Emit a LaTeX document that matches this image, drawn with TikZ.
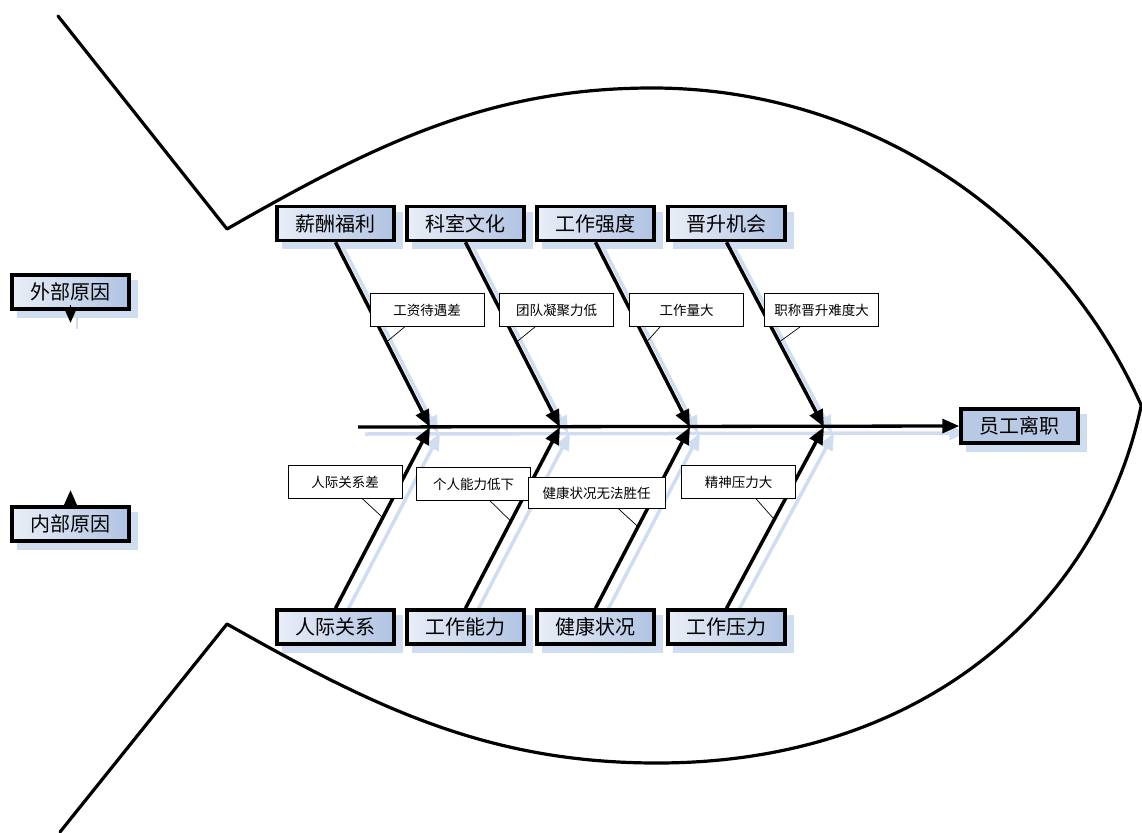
\documentclass[tikz,border=0pt]{standalone}
\usepackage{fontspec}
\newfontfamily\cjk{Noto Sans CJK SC}
\usetikzlibrary{arrows.meta,calc,backgrounds}
\definecolor{boxL}{RGB}{233,238,247}
\definecolor{boxR}{RGB}{176,195,227}
\definecolor{effC}{RGB}{184,201,230}
\definecolor{shadowC}{RGB}{208,220,240}
\begin{document}
\begin{tikzpicture}[x=1pt,y=-1pt,
 catbox/.style={draw=black,line width=3.5pt,minimum width=117pt,minimum height=34pt,inner sep=0pt,left color=boxL,right color=boxR,font=\cjk\fontsize{20}{20}\selectfont},
 effbox/.style={draw=black,line width=3.5pt,minimum width=117pt,minimum height=34pt,inner sep=0pt,fill=effC,font=\cjk\fontsize{20}{20}\selectfont},
 labbox/.style={draw=black,line width=0.8pt,fill=white,minimum width=114pt,minimum height=33pt,inner sep=0pt,font=\cjk\fontsize{13.5}{13.5}\selectfont},
 bone/.style={line width=3.5pt,-{Triangle[length=17pt,width=14pt]}},
 shadowline/.style={draw=shadowC,line width=3.5pt,-{Triangle[length=17pt,width=14pt]}},
 callout/.style={line width=0.7pt},
 fishline/.style={line width=3.2pt,line join=round,line cap=round},
 smallarrow/.style={line width=1pt,-{Triangle[length=15pt,width=13pt]}},
]
\useasboundingbox (0,0) rectangle (1142,832);

% fish outline
\draw[fishline] (58,16) -- (227,229)
  .. controls (377,143) and (490,88) .. (652.5,88)
  arc[start angle=-90,end angle=-24,radius=535]
  .. controls (1100,600) and (930,763) .. (657,763)
  .. controls (490,763) and (377,709) .. (227,624) -- (60,832);

% category boxes
\node[catbox] (xc) at (335.5,223.5) {薪酬福利};
\node[catbox] (ks) at (465.5,223.5) {科室文化};
\node[catbox] (qd) at (595.5,223.5) {工作强度};
\node[catbox] (js) at (726.5,223.5) {晋升机会};
\node[catbox] (rj) at (335.5,627) {人际关系};
\node[catbox] (nl) at (465.5,627) {工作能力};
\node[catbox] (jk) at (595.5,627) {健康状况};
\node[catbox] (yl) at (726.5,627) {工作压力};
\node[effbox] (eff) at (1019.5,426) {员工离职};
\node[catbox] (ext) at (70.5,292) {外部原因};
\node[catbox] (int) at (70.5,524) {内部原因};

% spine
\coordinate (sp) at (358,427);
\coordinate (j1) at (430,427);
\coordinate (j2) at (560,427);
\coordinate (j3) at (690,427);
\coordinate (j4) at (824,427);
\draw[line width=3.3pt,-{Triangle[length=17pt,width=14pt]}] (sp) -- (eff.west);

% bones
\draw[bone] (xc.south) -- (j1);
\draw[bone] (ks.south) -- (j2);
\draw[bone] (qd.south) -- (j3);
\draw[bone] (js.south) -- (j4);
\draw[bone] (rj.north) -- (j1);
\draw[bone] (nl.north) -- (j2);
\draw[bone] (jk.north) -- (j3);
\draw[bone] (yl.north) -- (j4);

% small arrows at left boxes
\coordinate (es) at ($(ext.south)+(0,-6)$);
\coordinate (ea) at ($(ext.south)+(0,12)$);
\coordinate (is) at ($(int.north)+(0,3)$);
\coordinate (ia) at ($(int.north)+(0,-15)$);
\draw[smallarrow] (es) -- (ea);
\draw[smallarrow] (is) -- (ia);

% labels
\node[labbox] (l1) at (427,310) {工资待遇差};
\node[labbox] (l2) at (556.5,310) {团队凝聚力低};
\node[labbox] (l3) at (686.5,310) {工作量大};
\node[labbox] (l4) at (821.5,310) {职称晋升难度大};
\node[labbox] (l5) at (345,482) {人际关系差};
\node[labbox] (l6) at (473.5,484) {个人能力低下};
\node[labbox,minimum width=137pt,minimum height=31pt] (l7) at (596.5,493) {健康状况无法胜任};
\node[labbox] (l8) at (738.5,482) {精神压力大};

% callout points on bones
\coordinate (k1) at ($(xc.south)!0.54!(j1)$);
\coordinate (k2) at ($(ks.south)!0.54!(j2)$);
\coordinate (k3) at ($(qd.south)!0.54!(j3)$);
\coordinate (k4) at ($(js.south)!0.54!(j4)$);
\coordinate (k5) at ($(rj.north)!0.50!(j1)$);
\coordinate (k6) at ($(nl.north)!0.48!(j2)$);
\coordinate (k7) at ($(jk.north)!0.45!(j3)$);
\coordinate (k8) at ($(yl.north)!0.49!(j4)$);
\draw[callout] ([xshift=35pt]l1.south west) -- (k1);
\draw[callout] ([xshift=36pt]l2.south west) -- (k2);
\draw[callout] ([xshift=31pt]l3.south west) -- (k3);
\draw[callout] ([xshift=36pt]l4.south west) -- (k4);
\draw[callout] ([xshift=75pt]l5.south west) -- (k5);
\draw[callout] ([xshift=74pt]l6.south west) -- (k6);
\draw[callout] ([xshift=91pt]l7.south west) -- (k7);
\draw[callout] ([xshift=75pt]l8.south west) -- (k8);

% shadows
\begin{scope}[on background layer]
  \foreach \n in {xc,ks,qd,js,rj,nl,jk,yl,eff,ext,int}{
    \fill[shadowC] ([shift={(7,7)}]\n.south west) rectangle ([shift={(7,7)}]\n.north east);
  }
  \draw[shadowline] ([shift={(7,7)}]sp) -- ([shift={(7,7)}]eff.west);
  \foreach \a/\b in {xc/j1,ks/j2,qd/j3,js/j4}{
    \draw[shadowline] ([shift={(8,6)}]\a.south) -- ([shift={(8,6)}]\b);
  }
  \foreach \a/\b in {rj/j1,nl/j2,jk/j3,yl/j4}{
    \draw[shadowline] ([shift={(10,6)}]\a.north) -- ([shift={(10,6)}]\b);
  }
  \draw[draw=shadowC,line width=2pt] ([shift={(6,0)}]ext.south) -- ([shift={(6,6)}]ea);
\end{scope}
\end{tikzpicture}
\end{document}
